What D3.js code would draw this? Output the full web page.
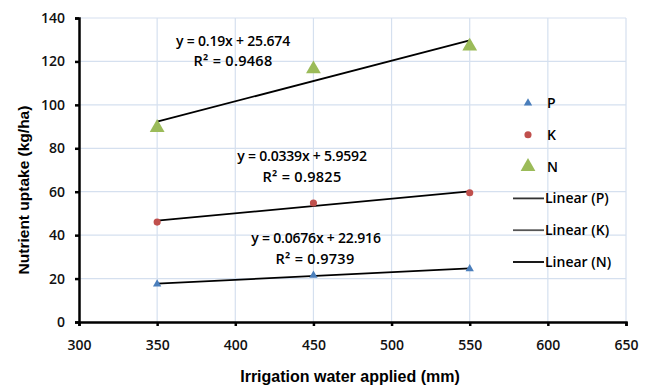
<!DOCTYPE html>
<html>
<head>
<meta charset="utf-8">
<script src="https://cdn.jsdelivr.net/npm/d3@7"></script>
<style>
  body { margin: 0; background: #fff; }
  svg { display: block; }
</style>
</head>
<body>
<div id="chart"></div>
<script>
// ── Data ──
const irrigation = [350, 450, 550];
const uptakeP = [17.5, 21.5, 24.5];
const uptakeK = [46, 54.8, 59.5];
const uptakeN = [89.5, 116.5, 127];
const xTicks = [300, 350, 400, 450, 500, 550, 600, 650];
const yTicks = [0, 20, 40, 60, 80, 100, 120, 140];
const eqLabels = ["y = 0.19x + 25.674", "y = 0.0339x + 5.9592", "y = 0.0676x + 22.916"];
const r2Labels = ["R² = 0.9468", "R² = 0.9825", "R² = 0.9739"];
const legendLabels = ["P", "K", "N", "Linear (P)", "Linear (K)", "Linear (N)"];

const W = 648, H = 386;
const margin = { top: 18, right: 22, bottom: 64, left: 79 };
const width = W - margin.left - margin.right;
const height = H - margin.top - margin.bottom;

const svg = d3.select("#chart").append("svg")
  .attr("width", W).attr("height", H);
const g = svg.append("g").attr("transform", `translate(${margin.left},${margin.top})`);

const x = d3.scaleLinear().domain([300, 650]).range([0, width]);
const y = d3.scaleLinear().domain([0, 140]).range([height, 0]);

// gridlines
g.append("g").selectAll("line").data(yTicks.slice(1)).join("line")
  .attr("x1", 0).attr("x2", width)
  .attr("y1", d => y(d)).attr("y2", d => y(d))
  .attr("stroke", "#d5e0ef").attr("stroke-width", 1.2);
g.append("g").selectAll("line").data(xTicks.slice(1)).join("line")
  .attr("x1", d => x(d)).attr("x2", d => x(d))
  .attr("y1", 0).attr("y2", height)
  .attr("stroke", "#d5e0ef").attr("stroke-width", 1.2);

// axes
const tickFont = "'Open Sans', 'DejaVu Sans', sans-serif";
const xAxis = g.append("g").attr("transform", `translate(0,${height})`)
  .call(d3.axisBottom(x).tickValues(xTicks).tickSize(4).tickPadding(14));
const yAxis = g.append("g")
  .call(d3.axisLeft(y).tickValues(yTicks).tickSize(4).tickPadding(10));
[xAxis, yAxis].forEach(a => {
  a.select(".domain").attr("stroke", "#000").attr("stroke-width", 2.5);
  a.selectAll(".tick line").attr("stroke", "#000").attr("stroke-width", 2.5);
  a.selectAll(".tick text").attr("font-family", tickFont)
    .attr("font-size", "14px").attr("font-weight", 600).attr("fill", "#111");
});

// axis titles
svg.append("text")
  .attr("x", 350).attr("y", 382)
  .attr("text-anchor", "middle")
  .attr("font-family", "'Liberation Sans', Arial, sans-serif")
  .attr("font-size", "16px").attr("font-weight", "bold")
  .text("Irrigation water applied (mm)");
svg.append("text")
  .attr("transform", "translate(29,190) rotate(-90)")
  .attr("text-anchor", "middle")
  .attr("font-family", "'Liberation Sans', Arial, sans-serif")
  .attr("font-size", "15.5px").attr("font-weight", "bold")
  .text("Nutrient uptake (kg/ha)");

// least squares trend lines
function fit(xs, ys) {
  const mx = d3.mean(xs), my = d3.mean(ys);
  let sxy = 0, sxx = 0;
  xs.forEach((v, i) => { sxy += (v - mx) * (ys[i] - my); sxx += (v - mx) ** 2; });
  const b = sxy / sxx;
  return v => my + b * (v - mx);
}
const series = [
  { vals: uptakeP, color: "#4a7ebb", sym: d3.symbolTriangle, size: 30 },
  { vals: uptakeK, color: "#c0504d", sym: d3.symbolCircle, size: 40 },
  { vals: uptakeN, color: "#9bbb59", sym: d3.symbolTriangle, size: 95 }
];
const lineColors = ["#333", "#555", "#000"];

series.forEach(s => {
  const f = fit(irrigation, s.vals);
  const x0 = d3.min(irrigation), x1 = d3.max(irrigation);
  g.append("line")
    .attr("x1", x(x0)).attr("y1", y(f(x0)))
    .attr("x2", x(x1)).attr("y2", y(f(x1)))
    .attr("stroke", "#000").attr("stroke-width", 1.8);
});

series.forEach(s => {
  g.append("g").selectAll("path").data(irrigation).join("path")
    .attr("d", d3.symbol().type(s.sym).size(s.size))
    .attr("transform", (d, i) => `translate(${x(d)},${y(s.vals[i])})`)
    .attr("fill", s.color);
});

// equation labels (placed as in the original figure)
const annFont = "'Open Sans', 'DejaVu Sans', sans-serif";
const eqPos = [[233, 46], [302, 161], [316, 243]];
const r2Pos = [[233, 66], [302, 182], [315, 264]];
eqLabels.forEach((t, i) => {
  svg.append("text")
    .attr("x", eqPos[i][0]).attr("y", eqPos[i][1])
    .attr("text-anchor", "middle")
    .attr("font-family", annFont).attr("font-size", "14px").attr("font-weight", 600)
    .attr("letter-spacing", "-0.2px")
    .text(t);
  svg.append("text")
    .attr("x", r2Pos[i][0]).attr("y", r2Pos[i][1])
    .attr("text-anchor", "middle")
    .attr("font-family", annFont).attr("font-size", "14.5px").attr("font-weight", 600)
    .attr("letter-spacing", "0.3px")
    .text(r2Labels[i]);
});

// legend
const legend = svg.append("g").attr("transform", "translate(513,103)");
const step = 31.8;
legendLabels.forEach((t, i) => {
  const row = legend.append("g").attr("transform", `translate(0,${i * step})`);
  if (i < 3) {
    const s = series[i];
    row.append("path")
      .attr("d", d3.symbol().type(s.sym).size(s.size))
      .attr("transform", "translate(15,0)")
      .attr("fill", s.color);
  } else {
    row.append("line")
      .attr("x1", 0).attr("x2", 31).attr("y1", 0).attr("y2", 0)
      .attr("stroke", lineColors[i - 3]).attr("stroke-width", 1.8);
  }
  row.append("text")
    .attr("x", i < 3 ? 34 : 32).attr("y", 0).attr("dy", "0.35em")
    .attr("font-family", annFont).attr("font-size", "14px").attr("font-weight", 600)
    .text(t);
});
</script>
</body>
</html>
